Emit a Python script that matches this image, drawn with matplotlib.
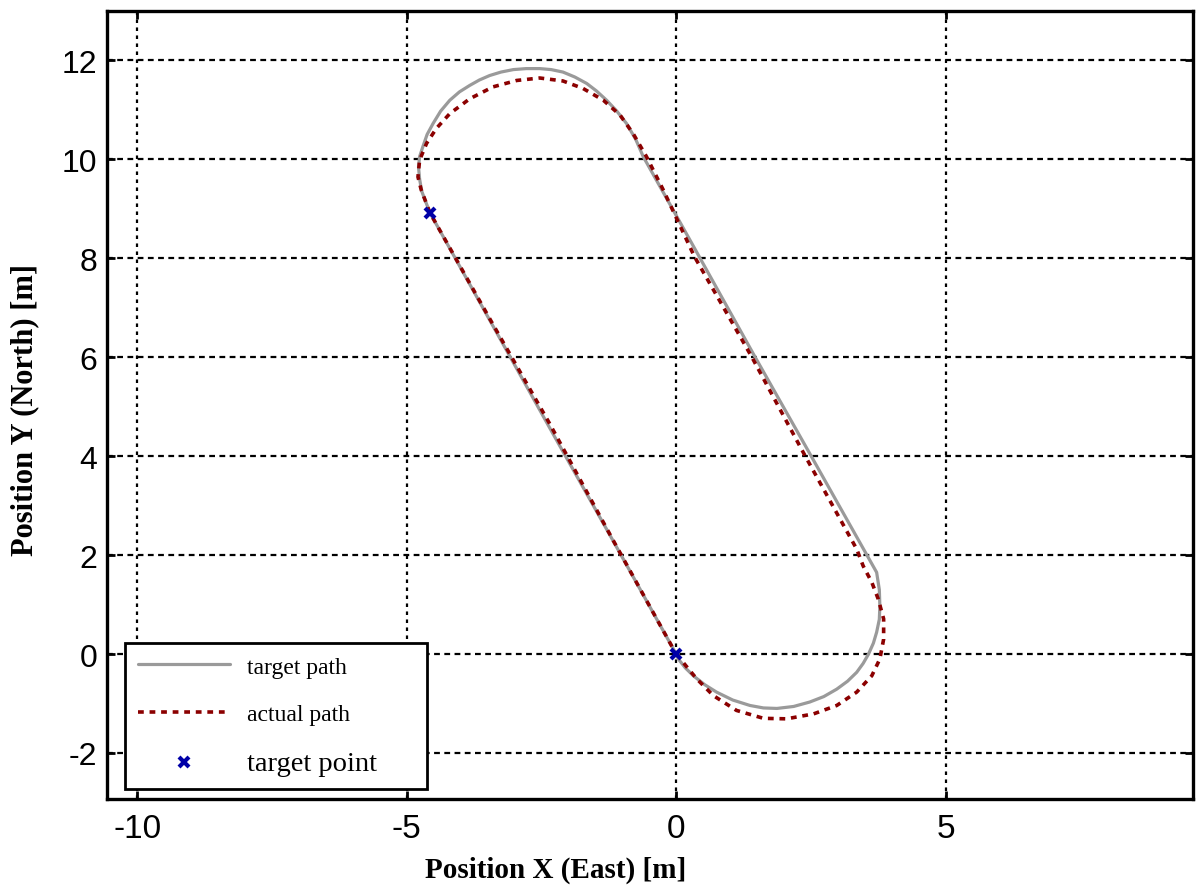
import matplotlib
matplotlib.use("Agg")
import matplotlib.pyplot as plt

plt.rcParams["axes.unicode_minus"] = False

# ---- data ----
target_x = [0.00, 0.04, 0.17, 0.32, 0.53, 0.75, 1.05, 1.37, 1.62, 1.87, 2.18, 2.48, 2.74, 2.98,
            3.18, 3.35, 3.47, 3.57, 3.66, 3.72, 3.77, 3.78, 3.77, 3.72,
            2.49, 1.44, 0.29, -0.61, -0.75, -0.92, -1.10, -1.29, -1.48, -1.66, -1.88, -2.10,
            -2.32, -2.53, -2.78, -3.02, -3.25, -3.46, -3.65, -3.83, -4.02, -4.20, -4.37,
            -4.51, -4.62, -4.70, -4.76, -4.78, -4.76, -4.72, -4.57, -3.43, -2.29, -1.14, 0.00]
target_y = [0.00, -0.10, -0.28, -0.44, -0.62, -0.77, -0.93, -1.04, -1.09, -1.10, -1.06, -0.97, -0.86, -0.71,
            -0.55, -0.37, -0.19, 0.00, 0.22, 0.44, 0.70, 0.97, 1.30, 1.65,
            4.03, 6.05, 8.30, 10.05, 10.40, 10.72, 10.97, 11.19, 11.38, 11.53, 11.66, 11.76,
            11.81, 11.83, 11.83, 11.81, 11.76, 11.69, 11.60, 11.49, 11.36, 11.19, 10.97,
            10.72, 10.50, 10.25, 10.05, 9.84, 9.60, 9.35, 8.92, 6.69, 4.46, 2.23, 0.00]

actual_x = [0.01, 0.13, 0.38, 0.69, 1.12, 1.62, 2.05, 2.55, 2.98, 3.35, 3.63, 3.78, 3.85,
            3.85, 3.75, 3.63, 3.47, 3.35, 2.38, 1.40, 0.34, -0.24, -0.55, -0.80, -1.04,
            -1.35, -1.73, -2.10, -2.53, -2.96, -3.40, -3.83, -4.20, -4.45, -4.63, -4.76,
            -4.79, -4.73, -4.57, -3.43, -2.35, -1.17, 0.00]
actual_y = [0.00, -0.17, -0.50, -0.84, -1.14, -1.30, -1.31, -1.21, -1.04, -0.77, -0.44, -0.10, 0.30,
            0.71, 1.11, 1.45, 1.78, 2.12, 4.03, 6.01, 8.03, 9.38, 10.05, 10.52, 10.89,
            11.19, 11.43, 11.58, 11.64, 11.59, 11.46, 11.22, 10.92, 10.62, 10.32, 9.98,
            9.64, 9.38, 8.92, 6.72, 4.66, 2.30, 0.00]

point_x = [0.0, -4.57]
point_y = [0.0, 8.92]

x_ticks = [-10, -5, 0, 5]
y_ticks = [-2, 0, 2, 4, 6, 8, 10, 12]

labels = ["target path", "actual path", "target point"]

# ---- figure ----
fig = plt.figure(figsize=(11.96, 8.95), dpi=100)
ax = fig.add_axes([107/1196, 1-800/895, 1086/1196, 788.3/895])

gray = "#9a9a9a"
red = "#8b0000"
blue = "#0000a8"

l1, = ax.plot(target_x, target_y, color=gray, lw=2.3, solid_capstyle="round",
              solid_joinstyle="round", zorder=3)
l2, = ax.plot(actual_x, actual_y, color=red, lw=2.6, linestyle=(0, (1.6, 1.6)), zorder=4)
l3, = ax.plot(point_x, point_y, linestyle="none", marker="x", color=blue, ms=7, mew=3, zorder=5)

ax.set_xlim(-10.56, 9.59)
ax.set_ylim(-2.93, 13.0)
ax.set_xticks(x_ticks)
ax.set_yticks(y_ticks)

ax.xaxis.grid(True, color="black", linestyle=(0, (1.6, 2.0)), linewidth=1.6)
ax.yaxis.grid(True, color="black", linestyle=(0, (2.6, 2.0)), linewidth=1.6)

for s in ax.spines.values():
    s.set_linewidth(2.4)
    s.set_color("black")

ax.tick_params(direction="in", length=6, width=2, top=True, right=True)
ax.tick_params(axis="x", labelsize=24, pad=10)
ax.tick_params(axis="y", labelsize=23, pad=7)
for t in ax.get_xticklabels() + ax.get_yticklabels():
    t.set_family("Liberation Sans")

ax.set_xlabel("Position X (East) [m]", family="Liberation Serif", fontweight="bold", fontsize=21)
ax.set_ylabel("Position Y (North) [m]", family="Liberation Serif", fontweight="bold", fontsize=22)
ax.xaxis.set_label_coords(0.4134, -0.072)
ax.yaxis.set_label_coords(-0.062, 0.495)
ax.yaxis.label.set_verticalalignment("bottom")

leg = ax.legend([l1, l2, l3], labels, loc="lower left",
                bbox_to_anchor=(125/1196, 1-790/895, 302/1196, 0.16),
                bbox_transform=fig.transFigure, mode="expand", borderaxespad=0,
                prop={"family": "Liberation Serif", "size": 17},
                handlelength=3.9, handletextpad=0.7, labelspacing=1.1,
                borderpad=0.55, fancybox=False, framealpha=1, edgecolor="black")
leg.get_frame().set_linewidth(2)
leg.get_texts()[2].set_fontsize(20.5)

fig.savefig("out.png", dpi=100)
